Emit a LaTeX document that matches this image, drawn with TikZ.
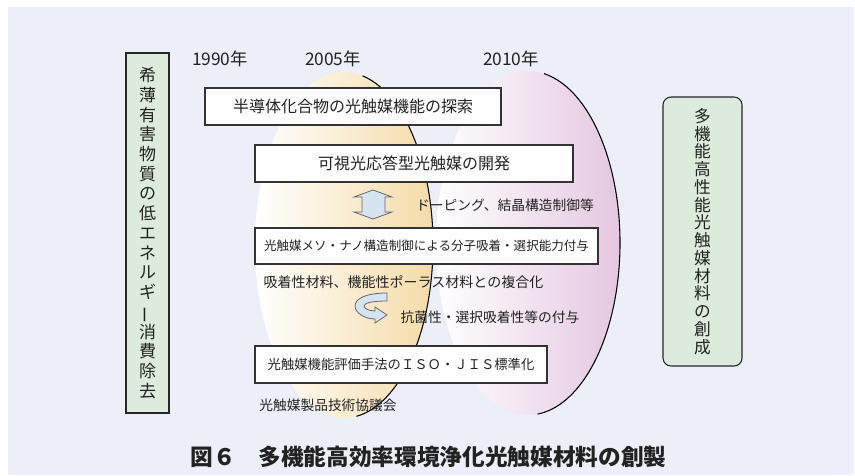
\documentclass[tikz,border=0pt]{standalone}
\usepackage{fontspec}
\usepackage{graphicx}
\newfontfamily\cjk{Noto Sans CJK JP}
\definecolor{bg}{RGB}{236,239,247}
\definecolor{yorange}{RGB}{245,219,168}
\definecolor{ppink}{RGB}{228,199,225}
\definecolor{vgreen}{RGB}{221,235,220}
\definecolor{ablue}{RGB}{214,228,242}
\definecolor{txt}{RGB}{34,34,34}
\newcommand{\vbar}{\rotatebox[origin=c]{90}{ー}}
\begin{document}
\begin{tikzpicture}[x=0.75pt,y=-0.75pt,
  box/.style={draw=black!80, fill=white, line width=0.8pt, inner sep=0pt, align=center, text=txt},
  lbl/.style={inner sep=0pt, text=txt, font=\cjk\fontsize{10.3}{12}\selectfont},
  year/.style={inner sep=0pt, text=txt, font=\cjk\fontsize{13}{15}\selectfont},
  vbox/.style={draw=black!85, fill=vgreen, line width=0.8pt, inner sep=0pt, align=center, text=txt},
  blockarrow/.style={draw=black!60, fill=ablue, line width=0.6pt, line join=miter},
  outline/.style={draw=black, line width=0.8pt}]
\useasboundingbox (0,0) rectangle (855,475);
\fill[white] (0,0) rectangle (855,475);
\fill[bg] (8,7) rectangle (854,475);

% ellipses
\coordinate (ey) at (344,245);
\coordinate (ep) at (528,243);
\shade[left color=white, right color=ppink] (ep) ellipse [x radius=69pt, y radius=129pt];
\shade[left color=white, right color=yorange] (ey) ellipse [x radius=66.75pt, y radius=129.75pt];
\draw[outline] ([shift={(78:66.75pt and 129.75pt)}]ey) arc[start angle=78, end angle=-82, x radius=66.75pt, y radius=129.75pt];
\draw[outline] ([shift={(80:69pt and 129pt)}]ep) arc[start angle=80, end angle=-84, x radius=69pt, y radius=129pt];

% years
\node[year] (y1) at (220,59) {1990年};
\node[year] (y2) at (333,59) {2005年};
\node[year] (y3) at (511,59) {2010年};

% boxes
\node[box, minimum width=222pt, minimum height=27.75pt, font=\cjk\fontsize{12}{14}\selectfont] (b1) at (353,106.5) {半導体化合物の光触媒機能の探索};
\node[box, minimum width=238.5pt, minimum height=27.75pt, font=\cjk\fontsize{12}{14}\selectfont] (b2) at (414,163.5) {可視光応答型光触媒の開発};
\node[box, minimum width=257.25pt, minimum height=27pt, font=\cjk\fontsize{9.4}{11}\selectfont] (b3) at (426.5,246) {光触媒メソ・ナノ構造制御による分子吸着・選択能力付与};
\node[box, minimum width=219pt, minimum height=27.75pt, font=\cjk\fontsize{10}{12}\selectfont] (b4) at (401,364.5) {光触媒機能評価手法のＩＳＯ・ＪＩＳ標準化};

% labels
\node[lbl] (t1) at (505,205) {ドーピング、結晶構造制御等};
\node[lbl, font=\cjk\fontsize{10.5}{12}\selectfont] (t2) at (403.5,282) {吸着性材料、機能性ポーラス材料との複合化};
\node[lbl] (t3) at (490,317) {抗菌性・選択吸着性等の付与};
\node[lbl] (t4) at (328,405) {光触媒製品技術協議会};

% double arrow
\draw[blockarrow] (373,190) -- (392,197) -- (385,197) -- (385,212) -- (392,212) -- (373,219)
  -- (354,212) -- (362,212) -- (362,197) -- (354,197) -- cycle;

% curved arrow
\draw[blockarrow] (387,293) .. controls (365,293) and (355,299) .. (355,306)
  .. controls (355,313) and (365,319) .. (375,319) -- (375,323) -- (387,315) -- (375,307) -- (375,311)
  .. controls (368,311) and (364,308) .. (364,306)
  .. controls (364,303) and (372,301) .. (387,301) -- cycle;

% side boxes
\node[vbox, minimum width=32.25pt, minimum height=270pt,
  font=\cjk\fontsize{12.75}{14.8}\selectfont] (lb) at (147.5,233)
  {希\\薄\\有\\害\\物\\質\\の\\低\\エ\\ネ\\ル\\ギ\\{\vbar}\\消\\費\\除\\去};
\node[vbox, rounded corners=6pt, minimum width=59.25pt, minimum height=201.75pt,
  font=\cjk\fontsize{12.5}{13.3}\selectfont] (rb) at (702.5,231.5)
  {多\\機\\能\\高\\性\\能\\光\\触\\媒\\材\\料\\の\\創\\成};

% caption
\node[inner sep=0pt, text=txt, font=\cjk\bfseries\fontsize{17}{20}\selectfont] (cap) at (428.5,457) {図６　多機能高効率環境浄化光触媒材料の創製};
\end{tikzpicture}
\end{document}
